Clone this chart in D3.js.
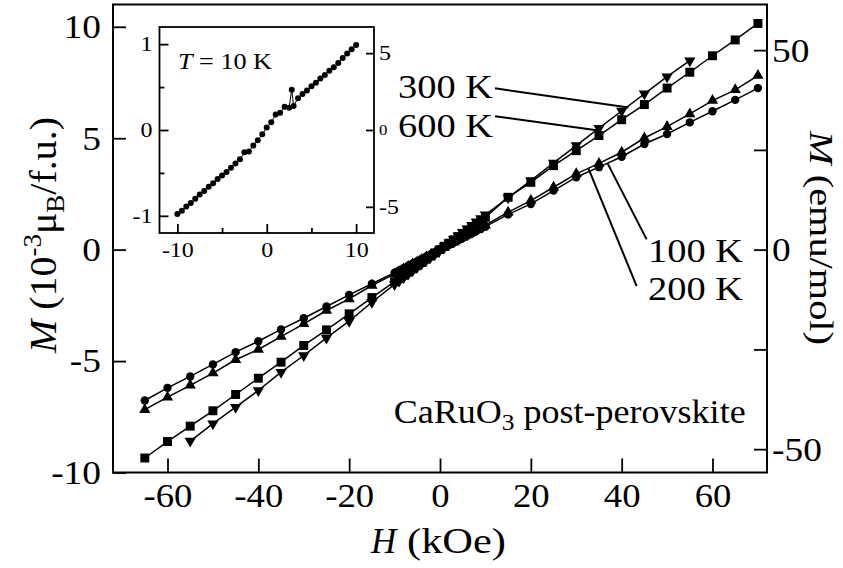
<!DOCTYPE html>
<html>
<head>
<meta charset="utf-8">
<script src="https://cdn.jsdelivr.net/npm/d3@7"></script>
<style>
  body { margin: 0; background: #fff; }
  text { font-family: "Liberation Serif", "Times New Roman", Times, serif; fill: #000; }
</style>
</head>
<body>
<svg id="chart" width="843" height="568"></svg>
<script>
// ---- data (H in kOe, M in 10^-3 muB/f.u.) ----
var h600 = [-65,-60,-55,-50,-45,-40,-35,-30,-25,-20,-15,-10,-9,-8,-7,-6,-5,-4,-3,-2,-1,0,1,2,3,4,5,6,7,8,9,10,15,20,25,30,35,40,45,50,55,60,65,70];
var m600 = [-9.35,-8.61,-7.92,-7.23,-6.50,-5.77,-5.05,-4.30,-3.60,-2.88,-2.15,-1.44,-1.30,-1.15,-1.01,-0.86,-0.72,-0.58,-0.43,-0.29,-0.15,0.00,0.15,0.29,0.44,0.58,0.73,0.87,1.02,1.16,1.31,1.45,2.35,3.02,3.77,4.44,5.12,5.83,6.51,7.25,7.96,8.70,9.41,10.15];

var h300 = [-55,-50,-45,-40,-35,-30,-25,-20,-15,-10,-9,-8,-7,-6,-5,-4,-3,-2,-1,0,1,2,3,4,5,6,7,8,9,10,15,20,25,30,35,40,45,50,55];
var m300 = [-8.59,-7.81,-7.07,-6.32,-5.50,-4.75,-3.96,-3.21,-2.36,-1.56,-1.41,-1.25,-1.09,-0.94,-0.78,-0.62,-0.47,-0.31,-0.16,0.00,0.16,0.31,0.47,0.62,0.78,0.94,1.09,1.25,1.40,1.56,2.33,3.10,3.89,4.67,5.45,6.22,6.99,7.76,8.48];

var h100 = [-65,-60,-55,-50,-45,-40,-35,-30,-25,-20,-15,-10,-9,-8,-7,-6,-5,-4,-3,-2,-1,0,1,2,3,4,5,6,7,8,9,10,15,20,25,30,35,40,45,50,55,60,65,70];
var m100 = [-7.18,-6.62,-6.09,-5.54,-4.94,-4.48,-3.90,-3.33,-2.73,-2.21,-1.61,-1.09,-0.98,-0.87,-0.76,-0.65,-0.55,-0.44,-0.33,-0.22,-0.11,0.00,0.11,0.22,0.33,0.44,0.55,0.66,0.77,0.88,0.99,1.10,1.68,2.20,2.80,3.40,3.87,4.37,5.01,5.52,6.09,6.69,7.17,7.81];

var h200 = [-65,-60,-55,-50,-45,-40,-35,-30,-25,-20,-15,-10,-9,-8,-7,-6,-5,-4,-3,-2,-1,0,1,2,3,4,5,6,7,8,9,10,15,20,25,30,35,40,45,50,55,60,65,70];
var m200 = [-6.77,-6.20,-5.69,-5.15,-4.60,-4.11,-3.58,-3.08,-2.55,-2.03,-1.53,-1.03,-0.93,-0.82,-0.72,-0.62,-0.52,-0.41,-0.31,-0.21,-0.10,0.00,0.10,0.21,0.31,0.41,0.52,0.62,0.72,0.83,0.93,1.03,1.58,2.05,2.65,3.25,3.70,4.17,4.74,5.19,5.71,6.21,6.72,7.25];

// inset, T = 10 K
var hInset = [-10,-9.5,-9,-8.5,-8,-7.5,-7,-6.5,-6,-5.5,-5,-4.5,-4,-3.5,-3,-2.5,-2,-1.5,-1,-0.5,0,0.5,1,1.5,2,2.5,2.8,3,3.5,4,4.5,5,5.5,6,6.5,7,7.5,8,8.5,9,9.5,10];
var mInset = [-0.98,-0.94,-0.89,-0.85,-0.80,-0.75,-0.71,-0.66,-0.62,-0.57,-0.53,-0.49,-0.44,-0.39,-0.34,-0.26,-0.25,-0.18,-0.12,-0.05,0.03,0.09,0.18,0.20,0.27,0.26,0.47,0.28,0.37,0.42,0.46,0.51,0.55,0.60,0.64,0.69,0.73,0.78,0.84,0.89,0.94,0.99];

// tick values
var xTicks = [-60,-40,-20,0,20,40,60];
var yTicks = [-10,-5,0,5,10];
var yRTicks = [-50,-25,0,25,50];
var insetXTicks = [-10,0,10], insetXMinor = [-5,5];
var insetYTicks = [-1,0,1], insetYMinor = [-0.5,0.5];
var insetYRTicks = [-5,0,5];

// temperature labels and their pointer lines (data units)
var tempLabels = ["300 K","600 K","100 K","200 K"];
var labelH = [11.7, 11.7, 45.8, 45.8];
var labelM = [6.79, 5.06, -0.56, -2.26];
var ptrH0 = [12.1, 12.1, 45.5, 43.3], ptrM0 = [7.24, 5.99, 0.46, -1.64];
var ptrH1 = [41.5, 34.5, 36.9, 32.7], ptrM1 = [6.38, 5.36, 3.87, 3.64];

var emuPerUnit = 5.585; // 10^-3 muB/f.u. -> emu/mol

var svg = d3.select("#chart");

var x = d3.scaleLinear().domain([-72, 72]).range([113, 767]);
var y = d3.scaleLinear().domain([-10, 11]).range([472.5, 4.5]);
var yR = d3.scaleLinear().domain([-10 * emuPerUnit, 11 * emuPerUnit]).range([472.5, 4.5]);

var ix = d3.scaleLinear().domain([-12, 12]).range([159.5, 374]);
var iy = d3.scaleLinear().domain([-1.2, 1.2]).range([233, 27]);
var iyR = d3.scaleLinear().domain([-1.2 * emuPerUnit, 1.2 * emuPerUnit]).range([233, 27]);

function stretch(sel, k) {
  sel.each(function() {
    var w = this.getComputedTextLength();
    if (w > 0) {
      this.setAttribute("textLength", w * k);
      this.setAttribute("lengthAdjust", "spacingAndGlyphs");
    }
  });
}

function styleAxis(g, fs) {
  g.select(".domain").remove();
  g.attr("font-size", fs).attr("font-family", null);
  g.selectAll(".tick line").attr("stroke-width", 1.8);
}

// ---- main series ----
var series = [
  {h: h600, m: m600, sym: d3.symbolSquare, size: 80, rot: 0},
  {h: h300, m: m300, sym: d3.symbolTriangle, size: 55, rot: 180},
  {h: h100, m: m100, sym: d3.symbolTriangle, size: 55, rot: 0},
  {h: h200, m: m200, sym: d3.symbolCircle, size: 55, rot: 0}
];

var line = d3.line().x(function(d){ return x(d[0]); }).y(function(d){ return y(d[1]); });

series.forEach(function(s) {
  var pts = s.h.map(function(v, i){ return [v, s.m[i]]; });
  svg.append("path")
    .datum(pts)
    .attr("d", line)
    .attr("fill", "none")
    .attr("stroke", "#000")
    .attr("stroke-width", 1.5);
  svg.selectAll(null)
    .data(pts)
    .enter()
    .append("path")
    .attr("d", d3.symbol().type(s.sym).size(s.size))
    .attr("transform", function(d){ return "translate(" + x(d[0]) + "," + y(d[1]) + ") rotate(" + s.rot + ")"; })
    .attr("fill", "#000");
});

// ---- main axes ----
var gx = svg.append("g").attr("transform", "translate(0,472.5)")
  .call(d3.axisBottom(x).tickValues(xTicks).tickSizeInner(-14).tickSizeOuter(0).tickPadding(10).tickFormat(function(d){ return String(d); }));
styleAxis(gx, 34);
stretch(gx.selectAll("text"), 1.08);

var gy = svg.append("g").attr("transform", "translate(113,0)")
  .call(d3.axisLeft(y).tickValues(yTicks).tickSizeInner(-13).tickSizeOuter(0).tickPadding(12).tickFormat(function(d){ return String(d); }));
styleAxis(gy, 34);
stretch(gy.selectAll("text"), 1.1);

var gyR = svg.append("g").attr("transform", "translate(767,0)")
  .call(d3.axisRight(yR).tickValues(yRTicks).tickSizeInner(-13).tickSizeOuter(0).tickPadding(5)
    .tickFormat(function(d){ return Math.abs(d) === 25 ? "" : String(d); }));
styleAxis(gyR, 34);
stretch(gyR.selectAll("text"), 1.1);

svg.append("rect")
  .attr("x", 113).attr("y", 4.5).attr("width", 654).attr("height", 468)
  .attr("fill", "none").attr("stroke", "#000").attr("stroke-width", 2);

// ---- axis titles ----
var lt = svg.append("text")
  .attr("transform", "translate(56,235) rotate(-90)")
  .attr("text-anchor", "middle")
  .attr("font-size", 37)
  .attr("textLength", 236)
  .attr("lengthAdjust", "spacingAndGlyphs");
lt.append("tspan").attr("font-style", "italic").text("M");
lt.append("tspan").text(" (10");
lt.append("tspan").attr("font-size", 25).attr("dy", -15).text("-3");
lt.append("tspan").attr("dy", 15).text("\u03bc");
lt.append("tspan").attr("font-size", 25).attr("dy", 8).text("B");
lt.append("tspan").attr("dy", -8).text("/f.u.)");

var rt = svg.append("text")
  .attr("transform", "translate(810,131) rotate(90)")
  .attr("font-size", 34)
  .attr("textLength", 214)
  .attr("lengthAdjust", "spacingAndGlyphs");
rt.append("tspan").attr("font-style", "italic").text("M");
rt.append("tspan").text(" (emu/mol)");

svg.append("text").attr("x", 371).attr("y", 553).attr("font-size", 35)
  .attr("font-style", "italic").text("H");
svg.append("text").attr("x", 407).attr("y", 553).attr("font-size", 35)
  .attr("textLength", 99).attr("lengthAdjust", "spacingAndGlyphs").text("(kOe)");

// sample name
var ct = svg.append("text")
  .attr("x", x(67.3)).attr("y", y(-7.78))
  .attr("text-anchor", "end")
  .attr("font-size", 34)
  .attr("textLength", 352)
  .attr("lengthAdjust", "spacingAndGlyphs");
ct.append("tspan").text("CaRuO");
ct.append("tspan").attr("font-size", 24).attr("dy", 7).text("3");
ct.append("tspan").attr("dy", -7).text(" post-perovskite");

// temperature labels with pointers
tempLabels.forEach(function(t, i) {
  svg.append("line")
    .attr("x1", x(ptrH0[i])).attr("y1", y(ptrM0[i]))
    .attr("x2", x(ptrH1[i])).attr("y2", y(ptrM1[i]))
    .attr("stroke", "#000").attr("stroke-width", 2);
  svg.append("text")
    .attr("x", x(labelH[i])).attr("y", y(labelM[i]))
    .attr("text-anchor", i < 2 ? "end" : "start")
    .attr("font-size", 34)
    .attr("textLength", 95)
    .attr("lengthAdjust", "spacingAndGlyphs")
    .text(t);
});

// ---- inset ----
svg.append("rect")
  .attr("x", 159.5).attr("y", 27).attr("width", 214.5).attr("height", 206)
  .attr("fill", "#fff");

var iline = d3.line().x(function(d){ return ix(d[0]); }).y(function(d){ return iy(d[1]); });
var ipts = hInset.map(function(v, i){ return [v, mInset[i]]; });
svg.append("path").datum(ipts).attr("d", iline)
  .attr("fill", "none").attr("stroke", "#000").attr("stroke-width", 1);
svg.selectAll(null).data(ipts).enter().append("circle")
  .attr("cx", function(d){ return ix(d[0]); })
  .attr("cy", function(d){ return iy(d[1]); })
  .attr("r", 3).attr("fill", "#000");

var igx = svg.append("g").attr("transform", "translate(0,233)")
  .call(d3.axisBottom(ix).tickValues(insetXTicks).tickSizeInner(-9).tickSizeOuter(0).tickPadding(10).tickFormat(function(d){ return String(d); }));
styleAxis(igx, 20);
stretch(igx.selectAll("text"), 1.2);
var igxm = svg.append("g").attr("transform", "translate(0,233)")
  .call(d3.axisBottom(ix).tickValues(insetXMinor).tickSizeInner(-5).tickSizeOuter(0).tickFormat(""));
styleAxis(igxm, 20);

var igy = svg.append("g").attr("transform", "translate(159.5,0)")
  .call(d3.axisLeft(iy).tickValues(insetYTicks).tickSizeInner(-9).tickSizeOuter(0).tickPadding(7).tickFormat(function(d){ return String(d); }));
styleAxis(igy, 20);
stretch(igy.selectAll("text"), 1.2);
var igym = svg.append("g").attr("transform", "translate(159.5,0)")
  .call(d3.axisLeft(iy).tickValues(insetYMinor).tickSizeInner(-5).tickSizeOuter(0).tickFormat(""));
styleAxis(igym, 20);

var igyR = svg.append("g").attr("transform", "translate(374,0)")
  .call(d3.axisRight(iyR).tickValues(insetYRTicks).tickSizeInner(-8).tickSizeOuter(0).tickPadding(5).tickFormat(function(d){ return String(d); }));
styleAxis(igyR, 20);
igyR.selectAll("text").filter(function(d){ return d === 0; }).attr("font-size", 14);
stretch(igyR.selectAll("text"), 1.2);

svg.append("rect")
  .attr("x", 159.5).attr("y", 27).attr("width", 214.5).attr("height", 206)
  .attr("fill", "none").attr("stroke", "#000").attr("stroke-width", 1.8);

var tt = svg.append("text")
  .attr("x", 178).attr("y", 69)
  .attr("font-size", 23)
  .attr("textLength", 94)
  .attr("lengthAdjust", "spacingAndGlyphs");
tt.append("tspan").attr("font-style", "italic").text("T");
tt.append("tspan").text(" = 10 K");
</script>
</body>
</html>
